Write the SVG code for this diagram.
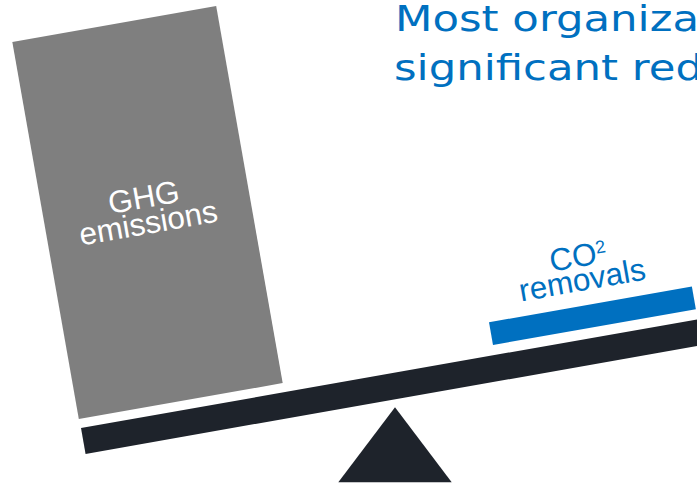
<svg xmlns="http://www.w3.org/2000/svg" width="697" height="488" viewBox="0 0 697 488">
  <style>
    .title { font-family: "DejaVu Sans", "Liberation Sans", sans-serif; font-size: 36px; fill: #0070C0; }
    .lbl { font-family: "Liberation Sans", Arial, sans-serif; font-size: 31.5px; text-anchor: middle; }
    .dark { fill: #1E232B; }
  </style>
  <rect width="697" height="488" fill="#ffffff"/>
  <g id="title">
    <text class="title" x="395" y="30.5" textLength="304" lengthAdjust="spacingAndGlyphs">Most organiza</text>
    <text class="title" x="394" y="79.5" textLength="309" lengthAdjust="spacingAndGlyphs">significant red</text>
  </g>
  <g id="ghg-emissions" transform="translate(147.5,212.5) rotate(-10)">
    <rect x="-103.5" y="-191.5" width="207" height="383" fill="#7F7F7F"/>
    <text class="lbl" fill="#ffffff" x="-1" y="-5">GHG</text>
    <text class="lbl" fill="#ffffff" x="-1" y="21">emissions</text>
  </g>
  <g id="co2-removals">
    <rect x="489" y="322.3" width="206" height="23" fill="#0070C0" transform="rotate(-10 489 322.3)"/>
    <g transform="translate(582.5,282) rotate(-10)">
      <text class="lbl" fill="#0070C0" x="0" y="-15.5">CO<tspan font-size="18" dy="-10">2</tspan></text>
      <text class="lbl" fill="#0070C0" x="0" y="8.5">removals</text>
    </g>
  </g>
  <g id="connectors">
    <rect id="beam" class="dark" x="81" y="428" width="700" height="26.3" transform="rotate(-10 81 428)"/>
    <polygon id="fulcrum" class="dark" points="395,407.3 338.3,482.3 451.7,482.3"/>
  </g>
</svg>
